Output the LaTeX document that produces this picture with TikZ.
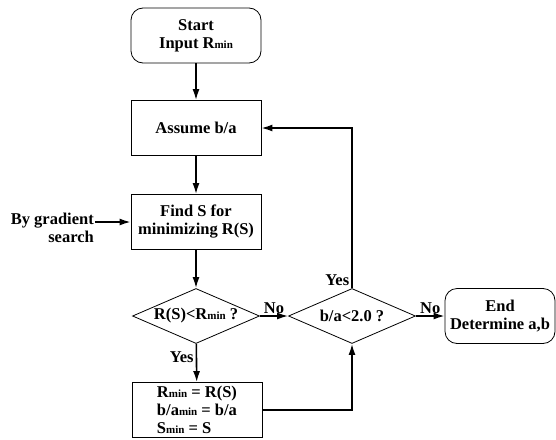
\documentclass[tikz,border=0pt]{standalone}
\usepackage{fontspec}
\setmainfont{Liberation Serif}
\usetikzlibrary{shapes.geometric,arrows.meta}
\newcommand{\mn}{{\fontsize{11}{11}\selectfont min}}
\begin{document}
\begin{tikzpicture}[x=1pt,y=-1pt,
  every node/.style={font=\bfseries\fontsize{16.5}{18}\selectfont, align=center},
  box/.style={draw, line width=.8pt, minimum width=130pt, minimum height=55pt, inner sep=0pt},
  term/.style={box, rounded corners=12pt},
  test/.style={draw, diamond, aspect=2.3, line width=.8pt, minimum width=127pt, minimum height=55pt, inner sep=0pt},
  arr/.style={-{Latex[length=11pt,width=7pt]}, line width=1.6pt},
  lbl/.style={inner sep=2pt}]

  \useasboundingbox (0,0) rectangle (556,439);
  \node[term] (n1) at (196,35.5) {Start\\Input R\mn};
  \node[box] (n2) at (196,128) {Assume b/a};
  \node[anchor=east, align=right, inner sep=1pt] (n31) at (95,228) {By gradient\\search};
  \node[box] (n32) at (196,222) {Find S for\\minimizing R(S)};
  \node[test] (n41) at (196,316) {R(S)<R\mn{} ?};
  \node[test] (n42) at (352,316) {b/a<2.0 ?};
  \node[term, minimum width=110pt] (n43) at (500,316) {End\\Determine a,b};
  \node[box, align=left] (n51) at (197,410) {R\mn{} = R(S)\\b/a\mn{} = b/a\\S\mn{} = S};
  \draw[arr] (n1) -- (n2);
  \draw[arr] (n2) -- (n32);
  \draw[arr] (n31.east |- n32) -- (n32);
  \draw[arr] (n32) -- (n41);
  \draw[arr] (n41) -- node[lbl, left, pos=.35] {Yes} (n51);
  \draw[arr] (n41) -- node[lbl, above] {No} (n42);
  \draw[arr] (n42) -- node[lbl, above] {No} (n43);
  \draw[arr] (n42.north) node[lbl, above left] {Yes} |- (n2);
  \draw[arr] (n51) -| (n42.south);
 \end{tikzpicture}
\end{document}
